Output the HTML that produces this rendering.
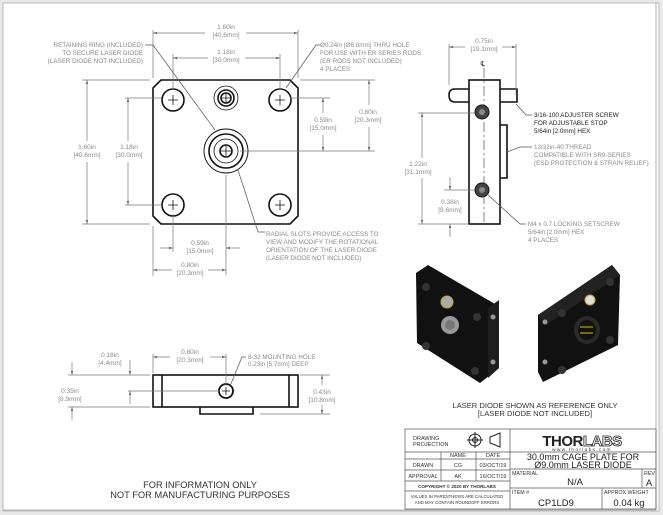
<!DOCTYPE html>
<html><head><style>
html,body{margin:0;padding:0;background:#fff}
svg{display:block}
text{font-family:"Liberation Sans",sans-serif}
.g{fill:#8a8a8a;font-size:6.3px}
.d{fill:#8a8a8a;font-size:6.5px;text-anchor:middle}
.k{fill:#222;font-size:6.3px}
.dl{stroke:#777;stroke-width:.7;fill:none}
.ob{stroke:#111;stroke-width:1.6;fill:none}
.tb{stroke:#555;stroke-width:.7;fill:none}
</style></head><body>
<svg width="663" height="515" viewBox="0 0 663 515" xmlns="http://www.w3.org/2000/svg">
<defs>
<marker id="a" viewBox="0 0 10 10" refX="10" refY="5" markerWidth="6" markerHeight="6" orient="auto-start-reverse"><path d="M0,2 L10,5 L0,8z" fill="#666"/></marker>
</defs>
<rect x="0" y="0" width="663" height="515" fill="#e8e8e8"/>
<rect x="3" y="3" width="656" height="508" fill="#fff" stroke="#bbb" stroke-width="1"/>
<line x1="656" y1="3" x2="656" y2="510" stroke="#999" stroke-width=".8"/>
<line x1="3" y1="510" x2="656" y2="510" stroke="#999" stroke-width=".8"/>

<!-- FRONT VIEW -->
<path class="ob" d="M161,80 H290 L298,88 V216 L290,224 H161 L153,216 V88 Z"/>
<g class="ob" stroke-width="1.3">
<circle cx="173" cy="100" r="11"/><circle cx="280" cy="100" r="11"/>
<circle cx="173" cy="205" r="11"/><circle cx="280" cy="205" r="11"/>
<circle cx="226" cy="98" r="12" stroke-width=".8"/><circle cx="226" cy="98" r="8"/><circle cx="226" cy="98" r="5"/>
<circle cx="226" cy="151" r="22" stroke-width=".9"/><circle cx="226" cy="151" r="17"/><circle cx="226" cy="151" r="12" stroke-width=".8"/><circle cx="226" cy="151" r="6"/>
</g>
<g stroke="#111" stroke-width=".8">
<path d="M168,100h10M173,95v10M275,100h10M280,95v10M168,205h10M173,200v10M275,205h10M280,200v10M222,98h8M226,94v8M221,151h10M226,146v10"/>
</g>
<g class="dl">
<path d="M153,30V78M298,30V78M173,54V90M280,54V90"/>
<line x1="153" y1="33" x2="205" y2="33" marker-start="url(#a)"/><line x1="246" y1="33" x2="298" y2="33" marker-end="url(#a)"/>
<line x1="173" y1="58" x2="208" y2="58" marker-start="url(#a)"/><line x1="245" y1="58" x2="280" y2="58" marker-end="url(#a)"/>
<path d="M82,80H150M82,224H150M125,98H162M125,205H162M300,80H375M290,98H330M240,151H375"/>
<line x1="87" y1="80" x2="87" y2="141" marker-start="url(#a)"/><line x1="87" y1="162" x2="87" y2="224" marker-end="url(#a)"/>
<line x1="128" y1="98" x2="128" y2="141" marker-start="url(#a)"/><line x1="128" y1="162" x2="128" y2="205" marker-end="url(#a)"/>
<line x1="369" y1="80" x2="369" y2="105" marker-start="url(#a)"/><line x1="369" y1="127" x2="369" y2="151" marker-end="url(#a)"/>
<line x1="323" y1="98" x2="323" y2="113" marker-start="url(#a)"/><line x1="323" y1="135" x2="323" y2="151" marker-end="url(#a)"/>
<path d="M173,214V252M226,175V275M153,226V276"/>
<line x1="160" y1="248" x2="173" y2="248" marker-end="url(#a)"/><line x1="240" y1="248" x2="226" y2="248" marker-end="url(#a)"/>
<line x1="153" y1="270" x2="172" y2="270" marker-start="url(#a)"/><line x1="208" y1="270" x2="226" y2="270" marker-end="url(#a)"/>
<path d="M145,45H153L215,130M320,45H316L286,88M265,232H258L238,170" stroke="#555"/>
</g>
<text class="d" x="226" y="29">1.60in</text><text class="d" x="226" y="37">[40.6mm]</text>
<text class="d" x="226" y="54">1.18in</text><text class="d" x="226" y="62">[30.0mm]</text>
<text class="d" x="87" y="149">1.60in</text><text class="d" x="87" y="157">[40.6mm]</text>
<text class="d" x="129" y="149">1.18in</text><text class="d" x="129" y="157">[30.0mm]</text>
<text class="d" x="368" y="114">0.80in</text><text class="d" x="368" y="122">[20.3mm]</text>
<text class="d" x="323" y="122">0.59in</text><text class="d" x="323" y="130">[15.0mm]</text>
<text class="d" x="200" y="245">0.59in</text><text class="d" x="200" y="253">[15.0mm]</text>
<text class="d" x="190" y="267">0.80in</text><text class="d" x="190" y="275">[20.3mm]</text>
<g class="g" text-anchor="end">
<text x="143" y="47">RETAINING RING (INCLUDED)</text><text x="143" y="55">TO SECURE LASER DIODE</text><text x="143" y="63">(LASER DIODE NOT INCLUDED)</text>
</g>
<g class="g">
<text x="320" y="47">Ø0.24in [Ø6.0mm] THRU HOLE</text><text x="320" y="55">FOR USE WITH ER SERIES RODS</text><text x="320" y="63">(ER RODS NOT INCLUDED)</text><text x="320" y="71">4 PLACES</text>
<text x="266" y="236">RADIAL SLOTS PROVIDE ACCESS TO</text><text x="266" y="244">VIEW AND MODIFY THE ROTATIONAL</text><text x="266" y="252">ORIENTATION OF THE LASER DIODE</text><text x="266" y="260">(LASER DIODE NOT INCLUDED)</text>
</g>

<!-- SIDE VIEW -->
<rect class="ob" x="469" y="80" width="31" height="144" stroke-width="1.3"/>
<path class="ob" stroke-width="1" d="M469,89H455Q449,89 449,95Q449,102 455,102H469M500,89H517V102H500M500,125H507V178H500"/>
<path d="M484,68V224" stroke="#333" stroke-width=".6" stroke-dasharray="10,3,2,3"/>
<text x="483" y="66" font-size="7" text-anchor="middle" fill="#333">℄</text>
<g stroke="#111" fill="#444"><circle cx="482" cy="112" r="7"/><circle cx="482" cy="190" r="7"/></g>
<g fill="#888"><circle cx="482" cy="112" r="3"/><circle cx="482" cy="190" r="3"/></g>
<g class="dl">
<path d="M449,44V85M516,44V95M418,113H475M444,190H475M418,224H469"/>
<line x1="449" y1="47" x2="465" y2="47" marker-start="url(#a)"/><line x1="502" y1="47" x2="516" y2="47" marker-end="url(#a)"/>
<line x1="422" y1="113" x2="422" y2="158" marker-start="url(#a)"/><line x1="422" y1="178" x2="422" y2="224" marker-end="url(#a)"/>
<line x1="450" y1="177" x2="450" y2="190" marker-end="url(#a)"/><line x1="450" y1="237" x2="450" y2="224" marker-end="url(#a)"/>
<path d="M532,115H526L516,104M532,147H520L507,152M526,224H520L487,194" stroke="#555"/>
</g>
<text class="d" x="484" y="43">0.75in</text><text class="d" x="484" y="51">[19.1mm]</text>
<text class="d" x="418" y="166">1.22in</text><text class="d" x="418" y="174">[31.1mm]</text>
<text class="d" x="450" y="204">0.38in</text><text class="d" x="450" y="212">[9.6mm]</text>
<g class="k"><text x="534" y="117">3/16-100 ADJUSTER SCREW</text><text x="534" y="125">FOR ADJUSTABLE STOP</text><text x="534" y="133">5/64in [2.0mm] HEX</text></g>
<g class="g"><text x="534" y="149">13/32in-40 THREAD</text><text x="534" y="157">COMPATIBLE WITH SR9-SERIES</text><text x="534" y="165">(ESD PROTECTION &amp; STRAIN RELIEF)</text>
<text x="528" y="226">M4 x 0.7 LOCKING SETSCREW</text><text x="528" y="234">5/64in [2.0mm] HEX</text><text x="528" y="242">4 PLACES</text></g>

<!-- BOTTOM VIEW -->
<rect class="ob" x="153" y="375" width="145" height="32" stroke-width="1.3"/>
<path class="ob" stroke-width="1" d="M162,375V407M289,375V407M200,407V414H253V407"/>
<circle cx="226" cy="391" r="7" fill="none" stroke="#111" stroke-width="1.8"/>
<path d="M222,391h8M226,387v8" stroke="#111" stroke-width=".8"/>
<g class="dl">
<path d="M153,354V373M226,354V386M68,375H150M128,391H220M68,407H150M260,414H330M300,375H330"/>
<line x1="153" y1="357" x2="170" y2="357" marker-start="url(#a)"/><line x1="210" y1="357" x2="226" y2="357" marker-end="url(#a)"/>
<line x1="72" y1="362" x2="72" y2="375" marker-end="url(#a)"/>
<line x1="130" y1="360" x2="130" y2="375" marker-end="url(#a)"/>
<line x1="130" y1="404" x2="130" y2="391" marker-end="url(#a)"/>
<line x1="72" y1="420" x2="72" y2="407" marker-end="url(#a)"/>
<line x1="322" y1="375" x2="322" y2="385" marker-start="url(#a)"/><line x1="322" y1="405" x2="322" y2="414" marker-end="url(#a)"/>
<path d="M246,357H242L230,386" stroke="#555"/>
</g>
<text class="d" x="190" y="354">0.80in</text><text class="d" x="190" y="362">[20.3mm]</text>
<text class="d" x="110" y="357">0.18in</text><text class="d" x="110" y="365">[4.4mm]</text>
<text class="d" x="70" y="393">0.35in</text><text class="d" x="70" y="401">[8.9mm]</text>
<text class="d" x="322" y="394">0.43in</text><text class="d" x="322" y="402">[10.8mm]</text>
<g class="g"><text x="248" y="359">8-32 MOUNTING HOLE</text><text x="248" y="366">0.23in [5.7mm] DEEP</text></g>
<g fill="#333" font-size="9.3" text-anchor="middle"><text x="200" y="488">FOR INFORMATION ONLY</text><text x="200" y="498">NOT FOR MANUFACTURING PURPOSES</text></g>

<!-- 3D renders -->
<path d="M416,273 L428,265 L495,304 L499,312 L499,368 L480,383 L417,343 Z" fill="#111"/>
<path d="M488,308 L499,300 L499,368 L488,378 Z" fill="#1e1e1e"/>
<circle cx="447" cy="302" r="6" fill="#aaa" stroke="#c9a13a" stroke-width="1"/>
<circle cx="450" cy="325" r="9" fill="#999"/><circle cx="450" cy="325" r="5" fill="#777"/>
<g fill="#333"><circle cx="426" cy="287" r="4"/><circle cx="477" cy="317" r="4"/><circle cx="426" cy="346" r="4"/><circle cx="475" cy="371" r="4"/></g>
<g fill="#999"><circle cx="493" cy="317" r="2.5"/><circle cx="493" cy="362" r="2.5"/></g>
<path d="M538,315 L612,265 L620,275 L618,345 L543,382 L538,372 Z" fill="#111"/>
<path d="M538,315 L612,265 L620,275 L546,325 Z" fill="#222"/>
<circle cx="590" cy="300" r="5" fill="#ddd" stroke="#c9a13a" stroke-width="1"/>
<ellipse cx="587" cy="330" rx="13" ry="14" fill="#2a2a2a"/><ellipse cx="587" cy="330" rx="9" ry="10" fill="#111"/>
<path d="M580,327h13M580,333h13" stroke="#cc0" stroke-width="1"/>
<g fill="#333"><circle cx="562" cy="313" r="4"/><circle cx="610" cy="282" r="4"/><circle cx="562" cy="370" r="4"/><circle cx="610" cy="340" r="4"/></g>
<g fill="#999"><circle cx="545" cy="322" r="2.5"/><circle cx="545" cy="362" r="2.5"/></g>
<g fill="#333" font-size="7.6" text-anchor="middle"><text x="535" y="408">LASER DIODE SHOWN AS REFERENCE ONLY</text><text x="535" y="416">[LASER DIODE NOT INCLUDED]</text></g>

<!-- TITLE BLOCK -->
<g class="tb">
<rect x="405" y="429" width="251" height="80"/>
<path d="M510,429V509M405,452H510M405,459H510M405,470H510M405,481H510M405,491H510M441,452V481M476,452V481M510,452H656M510,469H656M510,488H656M642,469V488M602,488V509"/>
</g>
<g fill="#333" font-size="5.5"><text x="413" y="440">DRAWING</text><text x="413" y="446">PROJECTION</text></g>
<g stroke="#222" fill="none" stroke-width="1"><circle cx="475" cy="440" r="6"/><circle cx="475" cy="440" r="2.5"/><path d="M467,440h16M475,432v16M490,437L500,433V447L490,443Z"/></g>
<g fill="#333" font-size="5.5" text-anchor="middle">
<text x="458" y="457">NAME</text><text x="493" y="457">DATE</text>
<text x="423" y="467">DRAWN</text><text x="458" y="467">CG</text><text x="493" y="467">03/OCT/19</text>
<text x="423" y="478">APPROVAL</text><text x="458" y="478">AK</text><text x="493" y="478">16/OCT/19</text>
<text x="457" y="488" font-size="4.6" font-weight="bold">COPYRIGHT © 2020 BY THORLABS</text>
<text x="457" y="498" font-size="4.3">VALUES IN PARENTHESIS ARE CALCULATED</text><text x="457" y="504" font-size="4.3">AND MAY CONTAIN ROUNDOFF ERRORS</text>
</g>
<text x="582" y="446" font-size="15" font-weight="bold" text-anchor="middle" fill="#222" letter-spacing="-0.5">THOR<tspan fill="#fff" stroke="#222" stroke-width=".8">LABS</tspan></text>
<text x="582" y="451" font-size="4.8" text-anchor="middle" fill="#333" letter-spacing="1.3">www.thorlabs.com</text>
<g fill="#222" text-anchor="middle" font-size="9"><text x="583" y="460">30.0mm CAGE PLATE FOR</text><text x="583" y="468">Ø9.0mm LASER DIODE</text></g>
<g fill="#222" text-anchor="middle" font-size="9.5">
<text x="575" y="485">N/A</text><text x="649" y="486">A</text><text x="556" y="506">CP1LD9</text><text x="629" y="506">0.04 kg</text></g>
<g fill="#333" font-size="5.3"><text x="512" y="475">MATERIAL</text><text x="644" y="475">REV</text><text x="512" y="494">ITEM #</text><text x="604" y="494">APPROX WEIGHT</text></g>
</svg>
</body></html>
